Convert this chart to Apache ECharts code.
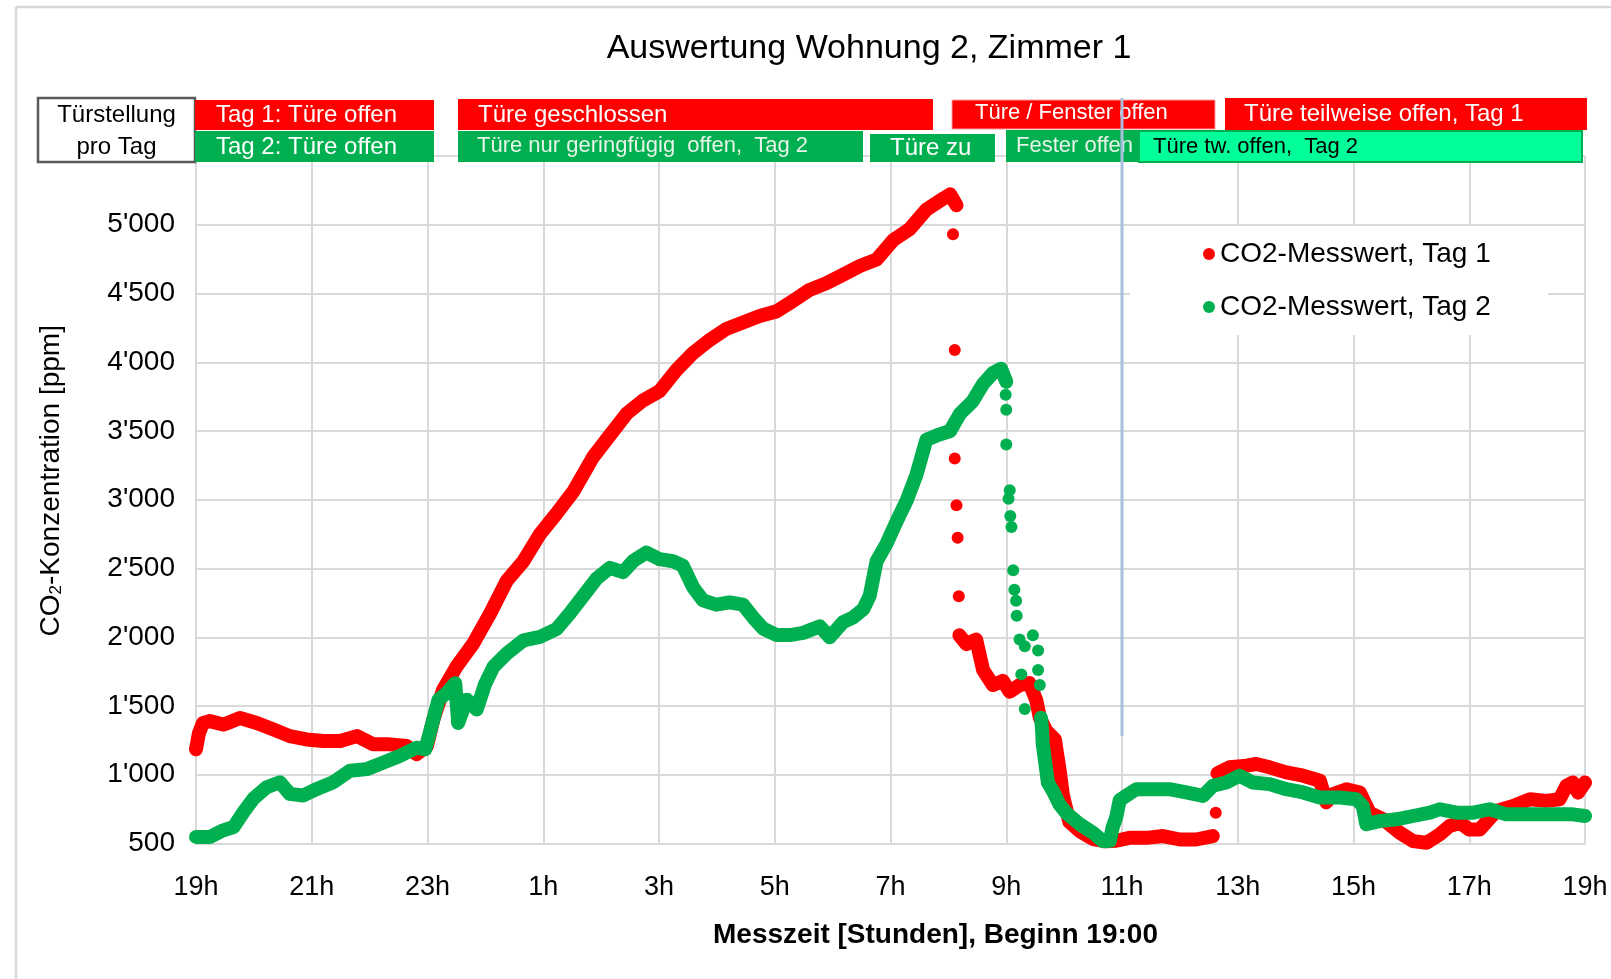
<!DOCTYPE html>
<html>
<head>
<meta charset="utf-8">
<script src="https://cdn.jsdelivr.net/npm/echarts@6/dist/echarts.min.js"></script>
<style>
  html, body { margin: 0; padding: 0; background: #fff; }
  #chart { width: 1611px; height: 979px; }
</style>
</head>
<body>
<div id="chart"></div>
<script>
// hours after 19:00, CO2 in ppm
const tag1HoursA = [0, 0.05, 0.12, 0.24, 0.47, 0.6, 0.76, 1.05, 1.34, 1.62,
  1.91, 2.2, 2.49, 2.78, 3.06, 3.35, 3.64, 3.81, 3.99, 4.1,
  4.27, 4.5, 4.79, 5.08, 5.37, 5.66, 5.94, 6.23, 6.52, 6.86,
  7.15, 7.44, 7.72, 8.01, 8.3, 8.59, 8.88, 9.16, 9.45, 9.74,
  10.03, 10.32, 10.6, 10.89, 11.18, 11.47, 11.76, 12.05, 12.33, 12.62,
  12.91, 13.03, 13.14];
const tag1PpmA = [1185, 1300, 1377, 1390, 1365, 1385, 1413, 1377, 1329, 1281,
  1257, 1245, 1245, 1281, 1221, 1221, 1209, 1150, 1209, 1400,
  1618, 1786, 1954, 2171, 2411, 2555, 2748, 2900, 3060, 3310,
  3468, 3626, 3721, 3790, 3942, 4068, 4163, 4242, 4289, 4337,
  4370, 4447, 4526, 4574, 4637, 4700, 4747, 4889, 4968, 5110,
  5190, 5221, 5142];
const tag1HoursB = [13.19, 13.31, 13.48, 13.6, 13.77, 13.94, 14.06, 14.23, 14.4, 14.52,
  14.58, 14.69, 14.84, 14.92, 14.98, 15.09, 15.27, 15.5, 15.73, 15.9,
  16.13, 16.42, 16.71, 17.0, 17.28, 17.57];
const tag1PpmB = [2014, 1951, 1983, 1762, 1652, 1683, 1604, 1652, 1667, 1541,
  1415, 1320, 1257, 1037, 847, 658, 590, 532, 516, 520,
  541, 541, 554, 529, 529, 554];
const tag1HoursC = [17.65, 17.86, 18.15, 18.32, 18.55, 18.84, 19.13, 19.42, 19.53, 19.65,
  19.88, 20.11, 20.28, 20.51, 20.8, 21.03, 21.26, 21.49, 21.66, 21.84,
  22.0, 22.18, 22.47, 22.76, 23.05, 23.33, 23.56, 23.68, 23.79, 23.88,
  24.0];
const tag1PpmC = [1010, 1054, 1066, 1078, 1054, 1017, 993, 956, 800, 859,
  895, 871, 724, 676, 578, 517, 505, 566, 627, 651,
  602, 602, 737, 773, 822, 810, 822, 920, 944, 870,
  944];
// single readings during the fast drops
const tag1DropHours = [13.08, 13.11, 13.11, 13.14, 13.16, 13.18, 17.62];
const tag1DropPpm = [4931, 4089, 3300, 2960, 2724, 2298, 724];

const tag2HoursA = [0, 0.24, 0.47, 0.65, 0.82, 0.99, 1.22, 1.45, 1.62, 1.85,
  2.09, 2.37, 2.66, 2.95, 3.24, 3.52, 3.81, 3.96, 4.04, 4.19,
  4.33, 4.48, 4.53, 4.68, 4.85, 4.99, 5.14, 5.37, 5.66, 5.94,
  6.23, 6.46, 6.69, 6.92, 7.15, 7.38, 7.55, 7.78, 8.01, 8.24,
  8.41, 8.59, 8.76, 8.99, 9.22, 9.45, 9.63, 9.8, 10.03, 10.26,
  10.49, 10.78, 10.95, 11.18, 11.35, 11.53, 11.64, 11.76, 11.93, 12.1,
  12.28, 12.45, 12.62, 12.8, 13.03, 13.2, 13.42, 13.6, 13.77, 13.91,
  14.0];
const tag2PpmA = [548, 548, 596, 620, 728, 825, 909, 945, 861, 849,
  897, 945, 1029, 1041, 1089, 1137, 1197, 1185, 1305, 1546,
  1594, 1666, 1377, 1546, 1474, 1654, 1786, 1882, 1978, 2002,
  2060, 2174, 2300, 2426, 2505, 2474, 2553, 2616, 2568, 2553,
  2521, 2363, 2268, 2237, 2253, 2237, 2142, 2063, 2016, 2016,
  2032, 2079, 2000, 2110, 2142, 2205, 2300, 2553, 2679, 2837,
  2995, 3184, 3437, 3468, 3500, 3626, 3717, 3843, 3922, 3953,
  3859];
const tag2DropHours = [13.99, 14.0, 14.0, 14.04, 14.06, 14.07, 14.09, 14.12, 14.14, 14.17,
  14.18, 14.23, 14.26, 14.32, 14.32, 14.46, 14.55, 14.55, 14.58];
const tag2DropPpm = [3764, 3654, 3401, 3007, 3070, 2881, 2802, 2487, 2345, 2266,
  2156, 1983, 1730, 1935, 1478, 2014, 1904, 1762, 1652];
const tag2HoursB = [14.6, 14.62, 14.63, 14.66, 14.69, 14.72, 14.81, 14.92, 15.04, 15.27,
  15.5, 15.67, 15.79, 15.84, 15.9, 15.96, 16.19, 16.25, 16.54, 16.82,
  17.11, 17.4, 17.57, 17.8, 18.03, 18.26, 18.55, 18.84, 19.13, 19.42,
  19.76, 20.05, 20.16, 20.22, 20.45, 20.74, 21.03, 21.32, 21.49, 21.78,
  22.07, 22.35, 22.64, 22.93, 23.22, 23.51, 23.79, 24.0];
const tag2PpmB = [1415, 1320, 1226, 1131, 1037, 942, 879, 784, 721, 640,
  578, 516, 520, 620, 690, 816, 880, 895, 895, 895,
  871, 846, 920, 944, 993, 944, 932, 895, 871, 834,
  834, 822, 773, 640, 663, 676, 700, 724, 749, 724,
  724, 749, 712, 712, 712, 712, 712, 700];

const xTickLabels = ['19h', '21h', '23h', '1h', '3h', '5h', '7h', '9h', '11h', '13h', '15h', '17h', '19h'];
const yTickLabels = ['500', "1'000", "1'500", "2'000", "2'500", "3'000", "3'500", "4'000", "4'500", "5'000", ''];

const tag1Name = 'CO2-Messwert, Tag 1';
const tag2Name = 'CO2-Messwert, Tag 2';

// vertical marker at 11h
const markerHour = 16;
const markerEndPpm = 1280;

const FONT = "'Liberation Sans', Arial, sans-serif";
const RED = '#ff0000';
const GREEN = '#00b050';

const pairs = (xs, ys) => xs.map((x, i) => [x, ys[i]]);

const bandSeries = (name, color, xs, ys, z) => ({
  name: name,
  type: 'line',
  data: pairs(xs, ys),
  symbol: 'none',
  clip: false,
  silent: true,
  z: z,
  itemStyle: { color: color },
  lineStyle: { color: color, width: 14, cap: 'round', join: 'round' }
});
const dotSeries = (name, color, xs, ys, z) => ({
  name: name,
  type: 'scatter',
  data: pairs(xs, ys),
  symbolSize: 12,
  clip: false,
  silent: true,
  z: z,
  itemStyle: { color: color, opacity: 1 }
});

const chart = echarts.init(document.getElementById('chart'));

chart.setOption({
  animation: false,
  backgroundColor: '#fff',
  textStyle: { fontFamily: FONT },
  title: {
    text: 'Auswertung Wohnung 2, Zimmer 1',
    left: 869,
    top: 32,
    textAlign: 'center',
    padding: 0,
    textStyle: { fontSize: 34, fontWeight: 'normal', color: '#000', fontFamily: FONT }
  },
  legend: {
    orient: 'vertical',
    left: 1130,
    top: 226,
    padding: [14, 57, 14, 73],
    itemGap: 25,
    itemWidth: 12,
    itemHeight: 12,
    backgroundColor: '#fff',
    textStyle: { fontSize: 28, color: '#000', fontFamily: FONT },
    data: [{ name: tag1Name, icon: 'circle' }, { name: tag2Name, icon: 'circle' }]
  },
  grid: { left: 196, right: 26, top: 156, bottom: 135.5 },
  xAxis: {
    type: 'value',
    min: 0,
    max: 24,
    interval: 2,
    axisLine: { show: true, lineStyle: { color: '#d9d9d9', width: 2 } },
    axisTick: { show: false },
    splitLine: { show: true, lineStyle: { color: '#d9d9d9', width: 2 } },
    axisLabel: {
      fontSize: 27,
      color: '#000',
      margin: 31,
      formatter: v => xTickLabels[Math.round(v / 2)]
    },
    name: 'Messzeit [Stunden], Beginn 19:00',
    nameLocation: 'middle',
    nameGap: 78,
    nameTextStyle: { fontSize: 28, fontWeight: 'bold', color: '#000', padding: [0, 0, 0, 90] }
  },
  yAxis: {
    type: 'value',
    min: 500,
    max: 5500,
    interval: 500,
    axisLine: { show: true, lineStyle: { color: '#d9d9d9', width: 2 } },
    axisTick: { show: false },
    splitLine: { show: true, lineStyle: { color: '#d9d9d9', width: 2 } },
    axisLabel: {
      fontSize: 28,
      color: '#000',
      margin: 21,
      formatter: v => yTickLabels[Math.round((v - 500) / 500)]
    },
    name: 'CO{s|2}-Konzentration [ppm]',
    nameLocation: 'middle',
    nameGap: 131,
    nameTextStyle: {
      fontSize: 28,
      color: '#000',
      padding: [0, 0, 0, 38],
      rich: { s: { fontSize: 17, color: '#000', verticalAlign: 'bottom' } }
    }
  },
  series: [
    bandSeries(tag1Name, RED, tag1HoursA, tag1PpmA, 2),
    bandSeries(tag1Name, RED, tag1HoursB, tag1PpmB, 2),
    bandSeries(tag1Name, RED, tag1HoursC, tag1PpmC, 2),
    dotSeries(tag1Name, RED, tag1DropHours, tag1DropPpm, 2),
    bandSeries(tag2Name, GREEN, tag2HoursA, tag2PpmA, 3),
    bandSeries(tag2Name, GREEN, tag2HoursB, tag2PpmB, 3),
    dotSeries(tag2Name, GREEN, tag2DropHours, tag2DropPpm, 3)
  ]
});

// header boxes with the door states
function box(x, y, w, h, fill, stroke, lw) {
  return {
    type: 'rect', z: 10,
    shape: { x: x, y: y, width: w, height: h },
    style: { fill: fill, stroke: stroke || null, lineWidth: lw || 0 }
  };
}
function label(x, y, text, color, size, align) {
  return {
    type: 'text', z: 11, x: x, y: y,
    style: {
      text: text, fill: color, fontSize: size, fontFamily: FONT,
      align: align || 'left', textAlign: align || 'left',
      verticalAlign: 'middle', textVerticalAlign: 'middle', lineHeight: 32
    }
  };
}

const markerTop = chart.convertToPixel({ gridIndex: 0 }, [markerHour, 5500]);
const markerBottom = chart.convertToPixel({ gridIndex: 0 }, [markerHour, markerEndPpm]);

chart.setOption({
  graphic: {
    elements: [
      { type: 'line', z: 1, shape: { x1: 16, y1: 7, x2: 1611, y2: 7 }, style: { stroke: '#d9d9d9', lineWidth: 2.5 } },
      { type: 'line', z: 1, shape: { x1: 16, y1: 7, x2: 16, y2: 979 }, style: { stroke: '#d9d9d9', lineWidth: 2.5 } },

      box(38, 98, 157, 64, '#fff', '#595959', 2.5),
      label(116.5, 131, 'Türstellung\npro Tag', '#000', 24, 'center'),

      box(195, 100, 239, 30, RED),
      label(216, 115, 'Tag 1: Türe offen', '#fff', 24),
      box(458, 99, 475, 31, RED),
      label(478, 115, 'Türe geschlossen', '#fff', 24),
      box(952, 100, 263, 29, RED, '#ff9c9c', 1),
      label(975, 113, 'Türe / Fenster offen', '#fff', 22),
      box(1225, 98, 362, 32, RED),
      label(1244, 114, 'Türe teilweise offen, Tag 1', '#fff', 24),

      box(195, 131, 239, 31, GREEN),
      label(216, 147, 'Tag 2: Türe offen', '#fff', 24),
      box(458, 131, 405, 31, GREEN),
      label(477, 146, 'Türe nur geringfügig  offen,  Tag 2', '#e6f3e8', 22),
      box(870, 134, 125, 28, GREEN),
      label(890, 148, 'Türe zu', '#fff', 24),
      box(1006, 130, 140, 32, GREEN),
      label(1016, 146, 'Fester offen', '#e6f3e8', 22),
      box(1139, 131, 443, 31, '#00ff99', GREEN, 2),
      label(1153, 147, 'Türe tw. offen,  Tag 2', '#000', 22),

      {
        type: 'line', z: 20,
        shape: { x1: markerTop[0], y1: 98, x2: markerBottom[0], y2: markerBottom[1] },
        style: { stroke: '#a7c0de', lineWidth: 3 }
      }
    ]
  }
});
</script>
</body>
</html>
